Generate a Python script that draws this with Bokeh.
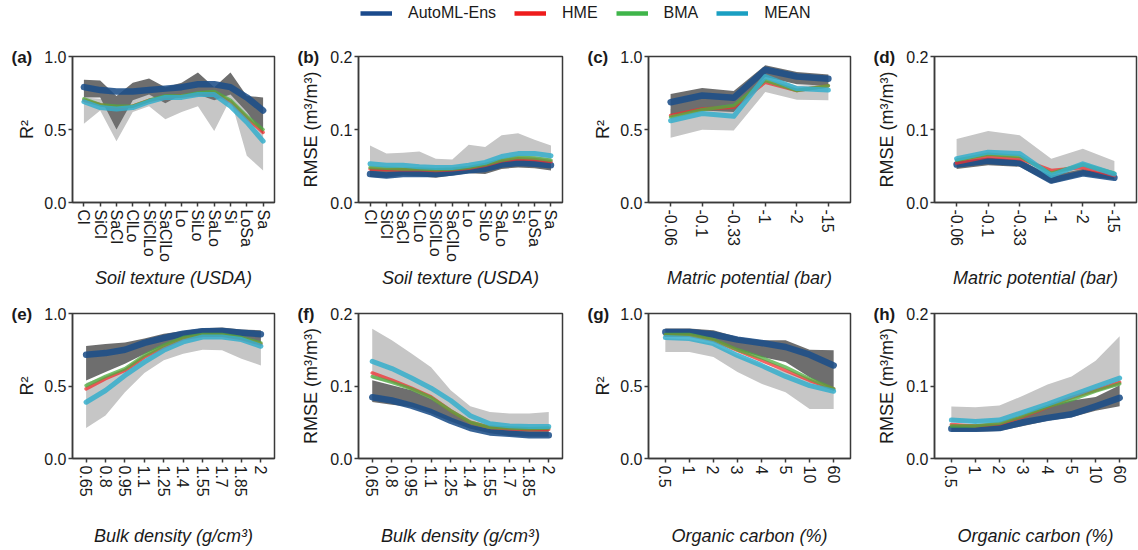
import math
from bokeh.plotting import figure
from bokeh.models import (Range1d, FactorRange, FixedTicker, PrintfTickFormatter,
                          Legend, LegendItem)
from bokeh.layouts import column, row
from bokeh.embed import file_html
from bokeh.resources import INLINE

# ---------------- categories / tick labels ----------------
TEXTURES = ["Cl", "SiCl", "SaCl", "ClLo", "SiClLo", "SaClLo", "Lo", "SiLo", "SaLo", "Si", "LoSa", "Sa"]
POTENTIALS = ["-0.06", "-0.1", "-0.33", "-1", "-2", "-15"]
DENSITIES = ["0.65", "0.8", "0.95", "1.1", "1.25", "1.4", "1.55", "1.7", "1.85", "2"]
CARBONS = ["0.5", "1", "2", "3", "4", "5", "10", "60"]
METHODS = ["AutoML-Ens", "HME", "BMA", "MEAN"]

# ---------------- (a) R2 vs soil texture ----------------
A_AUTO = [0.79, 0.77, 0.76, 0.76, 0.77, 0.78, 0.79, 0.81, 0.81, 0.79, 0.72, 0.63]
A_HME = [0.70, 0.67, 0.65, 0.66, 0.70, 0.72, 0.73, 0.74, 0.75, 0.69, 0.58, 0.48]
A_BMA = [0.71, 0.67, 0.66, 0.66, 0.70, 0.73, 0.73, 0.75, 0.76, 0.70, 0.59, 0.50]
A_MEAN = [0.69, 0.65, 0.64, 0.65, 0.69, 0.72, 0.72, 0.74, 0.74, 0.66, 0.55, 0.42]
A_DARK_LO = [0.72, 0.72, 0.50, 0.70, 0.74, 0.68, 0.74, 0.74, 0.70, 0.74, 0.62, 0.47]
A_DARK_HI = [0.84, 0.835, 0.73, 0.82, 0.85, 0.79, 0.82, 0.89, 0.79, 0.89, 0.73, 0.72]
A_LIGHT_LO = [0.54, 0.63, 0.42, 0.62, 0.66, 0.57, 0.62, 0.66, 0.49, 0.71, 0.32, 0.22]
A_LIGHT_HI = [0.72, 0.71, 0.68, 0.72, 0.76, 0.72, 0.76, 0.77, 0.72, 0.82, 0.70, 0.55]

# ---------------- (b) RMSE vs soil texture ----------------
B_AUTO = [0.039, 0.037, 0.039, 0.039, 0.039, 0.041, 0.044, 0.046, 0.052, 0.054, 0.053, 0.051]
B_HME = [0.046, 0.045, 0.045, 0.045, 0.044, 0.045, 0.047, 0.051, 0.057, 0.060, 0.059, 0.056]
B_BMA = [0.048, 0.047, 0.046, 0.046, 0.045, 0.046, 0.048, 0.052, 0.058, 0.062, 0.061, 0.058]
B_MEAN = [0.053, 0.051, 0.051, 0.049, 0.048, 0.048, 0.051, 0.055, 0.063, 0.067, 0.067, 0.064]
B_DARK_LO = [0.035, 0.034, 0.037, 0.036, 0.034, 0.037, 0.040, 0.039, 0.046, 0.048, 0.047, 0.044]
B_DARK_HI = [0.047, 0.046, 0.047, 0.046, 0.045, 0.046, 0.049, 0.052, 0.058, 0.060, 0.059, 0.056]
B_LIGHT_LO = [0.045, 0.044, 0.046, 0.045, 0.044, 0.044, 0.047, 0.050, 0.055, 0.057, 0.057, 0.055]
B_LIGHT_HI = [0.078, 0.067, 0.068, 0.070, 0.060, 0.059, 0.079, 0.076, 0.092, 0.095, 0.086, 0.078]

# ---------------- (c) R2 vs matric potential ----------------
C_AUTO = [0.687, 0.733, 0.717, 0.909, 0.863, 0.847]
C_HME = [0.596, 0.640, 0.653, 0.824, 0.767, 0.800]
C_BMA = [0.585, 0.635, 0.664, 0.836, 0.767, 0.800]
C_MEAN = [0.560, 0.610, 0.590, 0.863, 0.780, 0.770]
C_DARK_LO = [0.600, 0.630, 0.620, 0.860, 0.810, 0.800]
C_DARK_HI = [0.744, 0.785, 0.763, 0.940, 0.893, 0.877]
C_LIGHT_LO = [0.443, 0.498, 0.493, 0.756, 0.703, 0.700]
C_LIGHT_HI = [0.640, 0.660, 0.670, 0.860, 0.800, 0.810]

# ---------------- (d) RMSE vs matric potential ----------------
D_AUTO = [0.052, 0.057, 0.054, 0.030, 0.040, 0.034]
D_HME = [0.054, 0.063, 0.060, 0.044, 0.048, 0.037]
D_BMA = [0.058, 0.066, 0.063, 0.040, 0.052, 0.040]
D_MEAN = [0.060, 0.069, 0.067, 0.037, 0.053, 0.039]
D_DARK_LO = [0.046, 0.051, 0.049, 0.026, 0.037, 0.031]
D_DARK_HI = [0.055, 0.061, 0.058, 0.037, 0.046, 0.037]
D_LIGHT_LO = [0.052, 0.058, 0.056, 0.036, 0.045, 0.035]
D_LIGHT_HI = [0.087, 0.098, 0.092, 0.060, 0.0735, 0.057]

# ---------------- (e) R2 vs bulk density ----------------
E_AUTO = [0.716, 0.727, 0.750, 0.797, 0.831, 0.861, 0.878, 0.880, 0.868, 0.857]
E_HME = [0.480, 0.550, 0.607, 0.700, 0.770, 0.827, 0.850, 0.850, 0.827, 0.790]
E_BMA = [0.503, 0.566, 0.619, 0.711, 0.780, 0.834, 0.855, 0.855, 0.834, 0.797]
E_MEAN = [0.388, 0.469, 0.573, 0.665, 0.746, 0.804, 0.838, 0.838, 0.820, 0.774]
E_DARK_LO = [0.538, 0.596, 0.654, 0.720, 0.780, 0.827, 0.850, 0.850, 0.834, 0.800]
E_DARK_HI = [0.776, 0.790, 0.800, 0.827, 0.861, 0.880, 0.898, 0.903, 0.889, 0.885]
E_LIGHT_LO = [0.210, 0.296, 0.457, 0.589, 0.677, 0.723, 0.750, 0.746, 0.688, 0.642]
E_LIGHT_HI = [0.520, 0.570, 0.620, 0.710, 0.780, 0.830, 0.850, 0.850, 0.830, 0.790]

# ---------------- (f) RMSE vs bulk density ----------------
F_AUTO = [0.0845, 0.080, 0.073, 0.064, 0.052, 0.042, 0.036, 0.034, 0.032, 0.032]
F_HME = [0.118, 0.108, 0.097, 0.085, 0.066, 0.050, 0.043, 0.041, 0.040, 0.040]
F_BMA = [0.113, 0.105, 0.096, 0.084, 0.066, 0.050, 0.043, 0.042, 0.041, 0.042]
F_MEAN = [0.134, 0.124, 0.111, 0.097, 0.080, 0.059, 0.048, 0.045, 0.044, 0.044]
F_DARK_LO = [0.078, 0.074, 0.071, 0.062, 0.051, 0.041, 0.035, 0.031, 0.030, 0.030]
F_DARK_HI = [0.108, 0.101, 0.094, 0.082, 0.066, 0.051, 0.044, 0.042, 0.041, 0.041]
F_LIGHT_LO = [0.110, 0.104, 0.095, 0.083, 0.066, 0.050, 0.043, 0.041, 0.040, 0.040]
F_LIGHT_HI = [0.179, 0.163, 0.145, 0.126, 0.094, 0.072, 0.064, 0.062, 0.062, 0.064]

# ---------------- (g) R2 vs organic carbon ----------------
G_AUTO = [0.873, 0.873, 0.855, 0.820, 0.797, 0.769, 0.716, 0.642]
G_HME = [0.850, 0.850, 0.815, 0.746, 0.677, 0.607, 0.538, 0.480]
G_BMA = [0.855, 0.855, 0.820, 0.750, 0.695, 0.630, 0.550, 0.480]
G_MEAN = [0.834, 0.827, 0.792, 0.711, 0.642, 0.566, 0.503, 0.464]
G_DARK_LO = [0.850, 0.850, 0.815, 0.750, 0.700, 0.665, 0.561, 0.473]
G_DARK_HI = [0.896, 0.896, 0.885, 0.838, 0.815, 0.815, 0.750, 0.746]
G_LIGHT_LO = [0.734, 0.734, 0.700, 0.596, 0.515, 0.457, 0.342, 0.342]
G_LIGHT_HI = [0.830, 0.820, 0.790, 0.710, 0.650, 0.600, 0.540, 0.480]

# ---------------- (h) RMSE vs organic carbon ----------------
H_AUTO = [0.041, 0.041, 0.042, 0.050, 0.056, 0.061, 0.072, 0.0836]
H_HME = [0.047, 0.045, 0.048, 0.058, 0.071, 0.084, 0.094, 0.105]
H_BMA = [0.045, 0.045, 0.0485, 0.059, 0.0716, 0.081, 0.093, 0.103]
H_MEAN = [0.053, 0.051, 0.053, 0.064, 0.075, 0.087, 0.099, 0.111]
H_DARK_LO = [0.037, 0.037, 0.038, 0.045, 0.052, 0.057, 0.066, 0.072]
H_DARK_HI = [0.047, 0.047, 0.048, 0.059, 0.072, 0.080, 0.085, 0.101]
H_LIGHT_LO = [0.050, 0.049, 0.051, 0.062, 0.072, 0.083, 0.094, 0.100]
H_LIGHT_HI = [0.0716, 0.0707, 0.073, 0.0868, 0.102, 0.113, 0.135, 0.1686]

# ---------------- styling ----------------
FONT = "Liberation Sans"
TEXT = "#1a1a1a"
AX = "#3a3a3a"
DARK = "#6e6e6e"
LIGHT = "#c6c6c6"
LINE_STYLE = {
    "AutoML-Ens": dict(color="#1d4e89", width=6.5, alpha=0.88),
    "HME": dict(color="#f03030", width=3.5, alpha=0.75),
    "BMA": dict(color="#4caf3e", width=3.5, alpha=0.75),
    "MEAN": dict(color="#35aecb", width=5.0, alpha=0.85),
}
LEGEND_COLORS = {"AutoML-Ens": "#1a4a8c", "HME": "#ee1c1c", "BMA": "#3fb54a", "MEAN": "#1a9fc2"}

R2_LABEL = "R\u00b2"
RMSE_LABEL = "RMSE (m\u00b3/m\u00b3)"

# column geometry: (min_border_left, frame_width, min_border_right)
COLS = [(72, 202, 12), (72, 204, 12), (74, 202, 12), (72, 202, 2)]
# row geometry: (min_border_top, frame_height, min_border_bottom)
LEGEND_H = 26
ROWS = [(30, 146, 88), (23, 145, 90)]


def make_panel(cats, auto, hme, bma, mean, dark_lo, dark_hi, light_lo, light_hi,
               is_r2, xlabel, tag, col, rw, xstand):
    left, fw, right = COLS[col]
    top, fh, bottom = ROWS[rw]
    ymax = 1.0 if is_r2 else 0.2
    p = figure(x_range=FactorRange(factors=cats, range_padding=0.2, range_padding_units="absolute"),
               y_range=Range1d(0, ymax), frame_width=fw, frame_height=fh,
               min_border_left=left, min_border_right=right,
               min_border_top=top, min_border_bottom=bottom,
               output_backend="svg", toolbar_location=None,
               background_fill_color="white", border_fill_color="white")
    p.varea(x=cats, y1=light_lo, y2=light_hi, fill_color=LIGHT, fill_alpha=1.0)
    p.varea(x=cats, y1=dark_lo, y2=dark_hi, fill_color=DARK, fill_alpha=1.0)
    for name, ys in zip(METHODS, [auto, hme, bma, mean]):
        st = LINE_STYLE[name]
        p.line(x=cats, y=ys, line_color=st["color"], line_width=st["width"],
               line_alpha=st["alpha"], line_join="round", line_cap="round")

    p.xgrid.visible = False
    p.ygrid.visible = False
    p.outline_line_color = AX
    p.outline_line_width = 1.5
    p.outline_line_alpha = 1.0

    yax = p.yaxis[0]
    yax.ticker = FixedTicker(ticks=[0.0, 0.5, 1.0] if is_r2 else [0.0, 0.1, 0.2])
    yax.formatter = PrintfTickFormatter(format="%.1f")
    yax.axis_label = R2_LABEL if is_r2 else RMSE_LABEL
    yax.axis_label_standoff = 4 if is_r2 else 6
    yax.major_label_standoff = 2

    xax = p.xaxis[0]
    xax.axis_label = xlabel
    xax.axis_label_text_font_style = "italic"
    xax.major_label_orientation = -math.pi / 2
    xax.major_label_standoff = 3
    xax.axis_label_standoff = xstand

    for ax in (xax, yax):
        ax.axis_line_color = AX
        ax.axis_line_width = 1.5
        ax.major_tick_line_color = AX
        ax.major_tick_line_width = 1.5
        ax.major_tick_in = 0
        ax.major_tick_out = 4
        ax.minor_tick_line_color = None
        ax.major_label_text_font = FONT
        ax.major_label_text_font_size = "16px"
        ax.major_label_text_color = TEXT
        ax.axis_label_text_font = FONT
        ax.axis_label_text_font_size = "18px"
        ax.axis_label_text_color = TEXT
    yax.axis_label_text_font_style = "normal"

    # panel tag, e.g. "(a)", placed at the top-left corner beside the y axis
    p.title.text = tag
    p.title.align = "left"
    p.title.offset = -61
    p.title.vertical_align = "bottom"
    p.title.standoff = -20
    p.title.text_font = FONT
    p.title.text_font_size = "17px"
    p.title.text_font_style = "bold"
    p.title.text_color = TEXT
    return p


pa = make_panel(TEXTURES, A_AUTO, A_HME, A_BMA, A_MEAN, A_DARK_LO, A_DARK_HI, A_LIGHT_LO, A_LIGHT_HI,
                True, "Soil texture (USDA)", "(a)", 0, 0, 3)
pb = make_panel(TEXTURES, B_AUTO, B_HME, B_BMA, B_MEAN, B_DARK_LO, B_DARK_HI, B_LIGHT_LO, B_LIGHT_HI,
                False, "Soil texture (USDA)", "(b)", 1, 0, 3)
pc = make_panel(POTENTIALS, C_AUTO, C_HME, C_BMA, C_MEAN, C_DARK_LO, C_DARK_HI, C_LIGHT_LO, C_LIGHT_HI,
                True, "Matric potential (bar)", "(c)", 2, 0, 19)
pd_ = make_panel(POTENTIALS, D_AUTO, D_HME, D_BMA, D_MEAN, D_DARK_LO, D_DARK_HI, D_LIGHT_LO, D_LIGHT_HI,
                 False, "Matric potential (bar)", "(d)", 3, 0, 19)
pe = make_panel(DENSITIES, E_AUTO, E_HME, E_BMA, E_MEAN, E_DARK_LO, E_DARK_HI, E_LIGHT_LO, E_LIGHT_HI,
                True, "Bulk density (g/cm\u00b3)", "(e)", 0, 1, 26)
pf = make_panel(DENSITIES, F_AUTO, F_HME, F_BMA, F_MEAN, F_DARK_LO, F_DARK_HI, F_LIGHT_LO, F_LIGHT_HI,
                False, "Bulk density (g/cm\u00b3)", "(f)", 1, 1, 26)
pg = make_panel(CARBONS, G_AUTO, G_HME, G_BMA, G_MEAN, G_DARK_LO, G_DARK_HI, G_LIGHT_LO, G_LIGHT_HI,
                True, "Organic carbon (%)", "(g)", 2, 1, 35)
ph = make_panel(CARBONS, H_AUTO, H_HME, H_BMA, H_MEAN, H_DARK_LO, H_DARK_HI, H_LIGHT_LO, H_LIGHT_HI,
                False, "Organic carbon (%)", "(h)", 3, 1, 35)

# ---------------- legend strip ----------------
total_w = sum(c[0] + c[1] + c[2] for c in COLS)
leg = figure(width=total_w, height=LEGEND_H, min_border=0, x_range=Range1d(0, 1), y_range=Range1d(0, 1),
             x_axis_type=None, y_axis_type=None, output_backend="svg", toolbar_location=None,
             outline_line_color=None, background_fill_color="white", border_fill_color="white")
leg.xgrid.visible = False
leg.ygrid.visible = False
items = []
for name in METHODS:
    # proxy renderers kept outside the visible range; only their legend swatch is shown
    r = leg.line(x=[2, 3], y=[2, 2], line_color=LEGEND_COLORS[name], line_width=4.5)
    items.append(LegendItem(label=name, renderers=[r]))
legend = Legend(items=items, orientation="horizontal", location=(360, 4),
                glyph_width=32, glyph_height=16, label_standoff=16, spacing=18,
                padding=0, margin=0, border_line_alpha=0, background_fill_alpha=0,
                label_text_font=FONT, label_text_font_size="16px", label_text_color=TEXT)
leg.add_layout(legend)

layout = column(leg, row(pa, pb, pc, pd_), row(pe, pf, pg, ph))

open("out.html", "w").write(file_html(layout, INLINE))
